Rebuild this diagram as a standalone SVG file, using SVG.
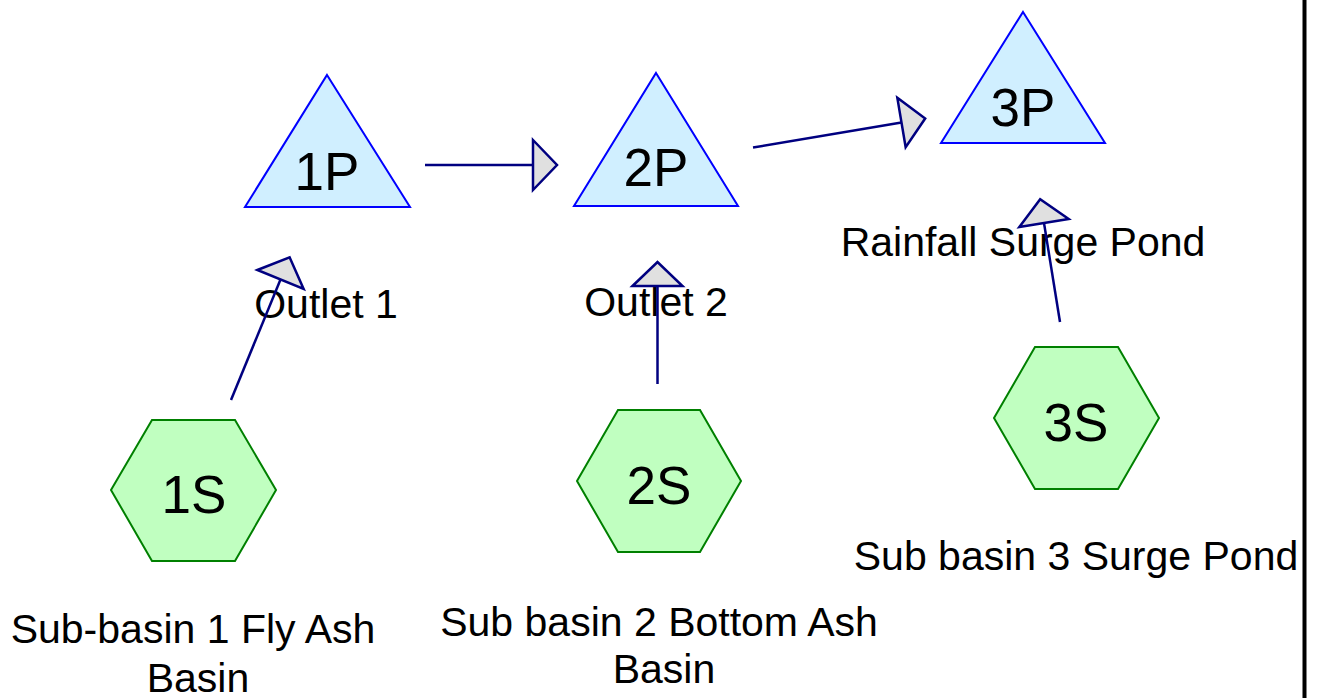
<svg xmlns="http://www.w3.org/2000/svg" width="1317" height="698" viewBox="0 0 1317 698">
<style>
.pond{fill:#d0efff;stroke:#0000ff;stroke-width:2}
.sub{fill:#c0ffc0;stroke:#008000;stroke-width:2}
.id{font-family:"Liberation Sans",Arial,sans-serif;font-size:53px;fill:#000;text-anchor:middle}
.lbl{font-family:"Liberation Sans",Arial,sans-serif;font-size:41px;fill:#000;text-anchor:middle}
.link{stroke:#000080;stroke-width:2.5;fill:none;marker-end:url(#ah)}
</style>
<defs>
<marker id="ah" markerUnits="userSpaceOnUse" markerWidth="30" markerHeight="54" refX="1" refY="26" orient="auto" overflow="visible">
<path d="M1,1 L25,26 L1,51 Z" fill="#e0e0e0" stroke="#000080" stroke-width="2.5" stroke-linejoin="miter"/>
</marker>
</defs>
<rect x="0" y="0" width="1317" height="698" fill="#ffffff"/>
<line x1="1304.5" y1="0" x2="1304.5" y2="698" stroke="#000" stroke-width="4"/>
<g id="node-1P">
<polygon class="pond" points="327,75 410,207 245,207"/>
<text class="id" x="327" y="190">1P</text>
<text class="lbl" x="326" y="318">Outlet 1</text>
</g>
<g id="node-2P">
<polygon class="pond" points="656,73 738,206 574,206"/>
<text class="id" x="656" y="186">2P</text>
<text class="lbl" x="656" y="316">Outlet 2</text>
</g>
<g id="node-3P">
<polygon class="pond" points="1023,12 1105,143 941,143"/>
<text class="id" x="1023" y="126">3P</text>
<text class="lbl" x="1023" y="256">Rainfall Surge Pond</text>
</g>
<g id="node-1S">
<polygon class="sub" points="111,490 152,420 235,420 276,490 235,561 152,561"/>
<text class="id" x="194" y="513">1S</text>
<text class="lbl" x="193" y="643">Sub-basin 1 Fly Ash</text>
<text class="lbl" x="198" y="692">Basin</text>
</g>
<g id="node-2S">
<polygon class="sub" points="577,481 618,410 700,410 741,481 700,552 618,552"/>
<text class="id" x="659" y="504">2S</text>
<text class="lbl" x="659" y="636">Sub basin 2 Bottom Ash</text>
<text class="lbl" x="664" y="683">Basin</text>
</g>
<g id="node-3S">
<polygon class="sub" points="994,418 1035,347 1118,347 1159,418 1118,489 1035,489"/>
<text class="id" x="1076" y="441">3S</text>
<text class="lbl" x="1076" y="570">Sub basin 3 Surge Pond</text>
</g>
<g id="connectors">
<line class="link" x1="425" y1="165" x2="533" y2="165"/>
<line class="link" x1="753" y1="147.5" x2="901.5" y2="122.5"/>
<line class="link" x1="231" y1="400" x2="280.5" y2="279.5"/>
<line class="link" x1="657.5" y1="384" x2="657.5" y2="286"/>
<line class="link" x1="1060" y1="322" x2="1044" y2="223"/>
</g>
</svg>
